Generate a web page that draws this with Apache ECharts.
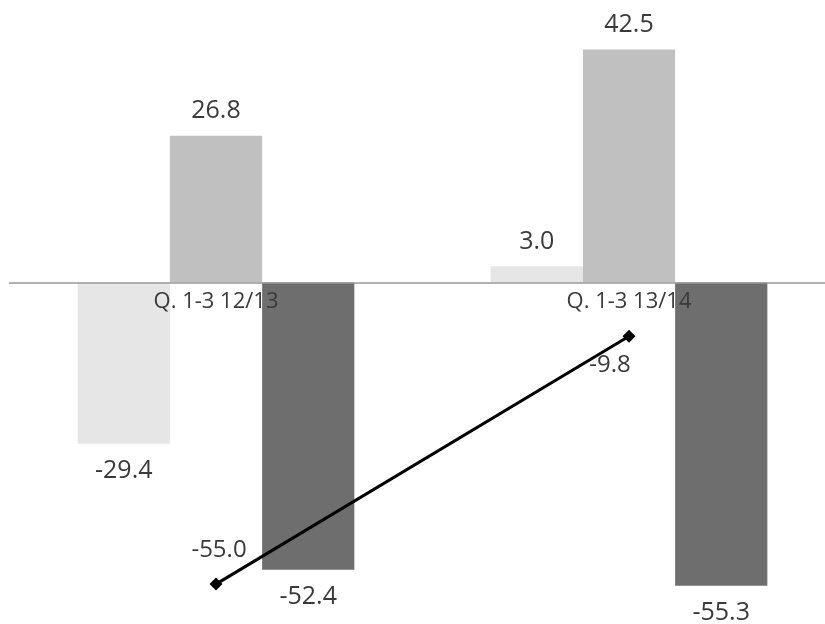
<!DOCTYPE html>
<html>
<head>
<meta charset="utf-8">
<script src="https://cdn.jsdelivr.net/npm/echarts@6/dist/echarts.min.js"></script>
<style>
  html, body { margin: 0; padding: 0; background: #fff; }
  #chart { width: 825px; height: 624px; }
</style>
</head>
<body>
<div id="chart"></div>
<script>
// Periods on the category axis
const categories = ['Q. 1-3 12/13', 'Q. 1-3 13/14'];

// Bar series values
const seriesA = [-29.4, 3.0];
const seriesB = [26.8, 42.5];
const seriesC = [-52.4, -55.3];

// Line series values
const lineValues = [-55.0, -9.8];

const FONT = '"Open Sans", "Noto Sans", sans-serif';
const TEXT = '#3a3a3a';

// Value range and plot box
const Y_MIN = -60, Y_MAX = 50;
const GRID_TOP = 8.5, GRID_HEIGHT = 603;
// shift the category axis from the bottom edge up to the zero line
const axisShift = -GRID_HEIGHT * (0 - Y_MIN) / (Y_MAX - Y_MIN);

function barSeries(values, color) {
  return {
    type: 'bar',
    data: values.map(v => ({
      value: v,
      label: { position: v >= 0 ? 'top' : 'bottom', distance: v >= 0 ? 12 : 15 }
    })),
    itemStyle: { color: color },
    barGap: '0%',
    barCategoryGap: '33%',
    label: {
      show: true,
      formatter: p => p.value.toFixed(1),
      fontFamily: FONT,
      fontSize: 25,
      color: TEXT
    }
  };
}

const chart = echarts.init(document.getElementById('chart'));
chart.setOption({
  animation: false,
  backgroundColor: '#ffffff',
  grid: {
    left: 9.5, width: 826, top: GRID_TOP, height: GRID_HEIGHT,
    containLabel: false, outerBoundsMode: 'none'
  },
  xAxis: {
    type: 'category',
    data: categories,
    position: 'bottom',
    offset: axisShift,
    z: 10,
    axisLine: { onZero: false, lineStyle: { color: '#999999', width: 1.5 } },
    axisTick: { show: false },
    axisLabel: { fontFamily: FONT, fontSize: 22, color: TEXT, margin: 8 }
  },
  yAxis: {
    type: 'value',
    min: Y_MIN,
    max: Y_MAX,
    show: false,
    splitLine: { show: false }
  },
  series: [
    barSeries(seriesA, '#e6e6e6'),
    barSeries(seriesB, '#c0c0c0'),
    barSeries(seriesC, '#6e6e6e'),
    {
      type: 'line',
      z: 5,
      data: [
        { value: lineValues[0], label: { position: 'top', distance: 15, offset: [3, 0] } },
        { value: lineValues[1], label: { position: 'bottom', distance: 10, offset: [-19, 0] } }
      ],
      symbol: 'diamond',
      symbolSize: 13,
      lineStyle: { color: '#000000', width: 3 },
      itemStyle: { color: '#000000' },
      label: {
        show: true,
        formatter: p => p.value.toFixed(1),
        fontFamily: FONT,
        fontSize: 24,
        color: TEXT
      }
    }
  ]
});
</script>
</body>
</html>
